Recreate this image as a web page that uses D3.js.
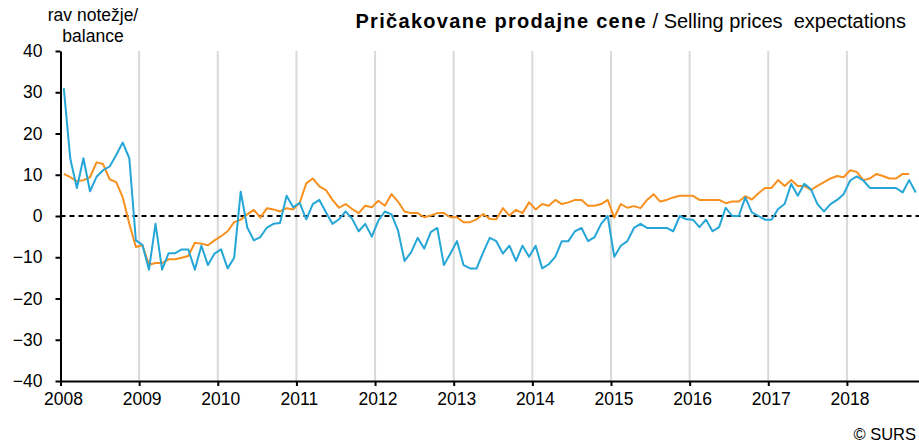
<!DOCTYPE html>
<html>
<head>
<meta charset="utf-8">
<script src="https://cdn.jsdelivr.net/npm/d3@7"></script>
<style>
  html, body { margin: 0; padding: 0; background: #fff; }
  svg { display: block; font-family: "Liberation Sans", Arial, sans-serif; }
</style>
</head>
<body>
<svg id="chart" width="919" height="445"></svg>
<script>
// Monthly balance series, January 2008 onwards
const startYear = 2008;
const monthCount = 131; // Jan 2008 .. Nov 2018

const yearLabels = ["2008", "2009", "2010", "2011", "2012", "2013", "2014", "2015", "2016", "2017", "2018"];
const yTicks = [-40, -30, -20, -10, 0, 10, 20, 30, 40];

const blueSeries = [
  31, 13.8, 6.8, 14, 6, 9.5, 11.1, 12, 14.8, 17.8, 14, -5.9,
  -7, -13, -1.9, -13, -9, -9, -8.1, -8.1, -13, -7.2, -11.9, -9.1,
  -8.1, -12.7, -10.1, 5.9, -2.8, -5.9, -5.1, -2.8, -1.9, -1.7, 4.9, 2.1,
  3.2, -0.8, 2.9, 3.9, 0.9, -1.9, -0.8, 1.1, -0.7, -3.7, -1.9, -5,
  -1.1, 1.1, 0.4, -3.5, -10.9, -8.8, -5.3, -7.9, -3.9, -2.9, -11.9, -9.1,
  -6.1, -11.9, -12.7, -12.7, -8.8, -5.3, -6.1, -9.1, -7.2, -10.9, -7.2, -9.9,
  -7.2, -12.7, -11.7, -9.9, -6.1, -6.1, -3.7, -2.9, -6.1, -5.1, -1.9, 0,
  -9.9, -7.2, -6.1, -2.9, -1.9, -2.9, -2.9, -2.9, -2.9, -3.7, 0, -0.8,
  -0.9, -2.7, -0.9, -3.7, -2.7, 2.0, 0, 0, 4.5, 0.9, 0, -0.9,
  -0.9, 1.7, 2.9, 7.8, 4.9, 7.8, 6.5, 2.9, 1.1, 2.9, 3.9, 5.3,
  8.6, 9.6, 8.6, 6.8, 6.8, 6.8, 6.8, 6.8, 5.7, 8.7, 5.7
];

const orangeSeries = [
  10.2, 9.4, 8.4, 8.7, 9.4, 13, 12.6, 8.9, 8.2, 4.5, -1.9, -7.5,
  -7.1, -11.8, -11.4, -11.4, -10.5, -10.5, -10.1, -9.7, -6.5, -6.7, -7.1, -5.9,
  -4.9, -3.7, -1.5, -0.9, 0.4, 1.5, -0.4, 1.9, 1.6, 1.1, 1.9, 1.6,
  3.2, 7.9, 9.1, 7.2, 6.3, 3.9, 2.0, 2.9, 1.7, 0.7, 2.5, 2.1,
  3.7, 2.5, 5.3, 3.5, 1.1, 0.7, 0.7, -0.3, 0.1, 0.7, 0.7, -0.3,
  -0.3, -1.5, -1.5, -0.8, 0.5, -0.7, -0.8, 1.9, 0.1, 1.5, 0.7, 3.3,
  1.6, 2.9, 2.5, 3.9, 2.9, 3.3, 3.9, 3.9, 2.5, 2.5, 2.9, 3.9,
  -0.4, 2.9, 2.0, 2.4, 1.9, 3.9, 5.3, 3.5, 3.9, 4.5, 4.9, 4.9,
  4.9, 3.9, 3.9, 3.9, 3.9, 3.1, 3.5, 3.5, 4.8, 4.0, 5.5, 6.8,
  6.8, 8.7, 7.3, 8.7, 7.3, 7.3, 6.3, 7.3, 8.2, 9.1, 9.7, 9.4,
  11.1, 10.7, 8.7, 9.1, 10.2, 9.7, 9.1, 9.1, 10.2, 10.2
];

const svg = d3.select("#chart");
const fontSize = 17.5;

const plot = { left: 60.5, right: 919, top: 51, bottom: 381 };

// x measured in months since January 2008; each point sits in the middle of its month
const x = d3.scaleLinear().domain([0, monthCount]).range([plot.left, plot.right]);
const y = d3.scaleLinear().domain([-40, 40]).range([plot.bottom, plot.top]);

const yearTickValues = yearLabels.map((d, i) => i * 12);

// vertical year gridlines
svg.append("g")
  .selectAll("line")
  .data(yearTickValues.slice(1))
  .join("line")
  .attr("x1", d => x(d)).attr("x2", d => x(d))
  .attr("y1", y(40)).attr("y2", y(-40))
  .attr("stroke", "#d9d9d9")
  .attr("stroke-width", 2);

// zero reference line
svg.append("line")
  .attr("x1", x(0)).attr("x2", x(monthCount))
  .attr("y1", y(0)).attr("y2", y(0))
  .attr("stroke", "#000")
  .attr("stroke-width", 2)
  .attr("stroke-dasharray", "5,4");

const line = d3.line()
  .x((d, i) => x(i + 0.5))
  .y(d => y(d));

svg.append("path")
  .datum(orangeSeries)
  .attr("fill", "none")
  .attr("stroke", "#f7901e")
  .attr("stroke-width", 2)
  .attr("stroke-linejoin", "round")
  .attr("d", line);

svg.append("path")
  .datum(blueSeries)
  .attr("fill", "none")
  .attr("stroke", "#25a6d6")
  .attr("stroke-width", 2)
  .attr("stroke-linejoin", "round")
  .attr("d", line);

// y axis
const yAxis = svg.append("g")
  .attr("transform", `translate(${plot.left},0)`)
  .call(d3.axisLeft(y).tickValues(yTicks).tickSize(5).tickSizeOuter(0).tickPadding(13));
yAxis.select(".domain").attr("stroke", "#000").attr("stroke-width", 2);
yAxis.selectAll(".tick line").attr("stroke", "#000").attr("stroke-width", 2);
yAxis.selectAll(".tick text")
  .attr("font-size", fontSize)
  .attr("font-family", "Liberation Sans, Arial, sans-serif")
  .attr("fill", "#000");

// x axis
const xAxis = svg.append("g")
  .attr("transform", `translate(0,${plot.bottom})`)
  .call(d3.axisBottom(x).tickValues(yearTickValues)
    .tickFormat((d, i) => yearLabels[i]).tickSize(5).tickSizeOuter(0).tickPadding(7));
xAxis.select(".domain").attr("stroke", "#000").attr("stroke-width", 2);
xAxis.selectAll(".tick line").attr("stroke", "#000").attr("stroke-width", 2);
xAxis.selectAll(".tick text")
  .attr("font-size", fontSize)
  .attr("font-family", "Liberation Sans, Arial, sans-serif")
  .attr("fill", "#000")
  .attr("dx", 2.5);

// unit label above the y axis
const unit = svg.append("text")
  .attr("text-anchor", "middle")
  .attr("font-size", fontSize)
  .attr("fill", "#000");
unit.append("tspan").attr("x", 93).attr("y", 21).text("rav notežje/");
unit.append("tspan").attr("x", 93).attr("y", 42).text("balance");

// title
const title = svg.append("text")
  .attr("x", 906)
  .attr("y", 28)
  .attr("text-anchor", "end")
  .attr("font-size", 20)
  .attr("fill", "#000");
title.append("tspan").attr("font-weight", "bold").attr("letter-spacing", 1.3).text("Pričakovane prodajne cene");
title.append("tspan").text(" / Selling prices\u00a0 expectations");

// source
svg.append("text")
  .attr("x", 916)
  .attr("y", 440)
  .attr("text-anchor", "end")
  .attr("font-size", 16.5)
  .attr("fill", "#000")
  .text("© SURS");
</script>
</body>
</html>
